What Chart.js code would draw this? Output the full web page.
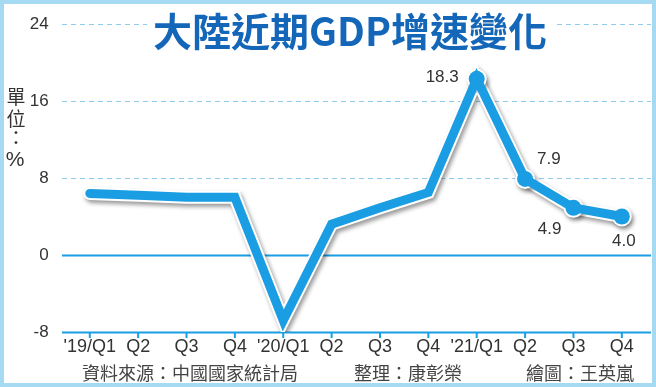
<!DOCTYPE html>
<html>
<head>
<meta charset="utf-8">
<script src="https://cdn.jsdelivr.net/npm/chart.js@4.4.0/dist/chart.umd.min.js"></script>
<style>
  html, body { margin: 0; padding: 0; background: #fff; }
  #wrap { position: relative; width: 656px; height: 387px; }
</style>
</head>
<body>
<div id="wrap"><canvas id="gdpChart" width="656" height="387"></canvas></div>
<script>
// data
var quarters = ["'19/Q1", "Q2", "Q3", "Q4", "'20/Q1", "Q2", "Q3", "Q4", "'21/Q1", "Q2", "Q3", "Q4"];
var gdpGrowth = [6.4, 6.2, 6.0, 6.0, -6.8, 3.2, 4.9, 6.5, 18.3, 7.9, 4.9, 4.0];
var shownLabels = [null, null, null, null, null, null, null, null, "18.3", "7.9", "4.9", "4.0"];
var yTicks = [-8, 0, 8, 16, 24];

var lineBlue = "#1a9de2";
var axisBlue = "#1a9de2";
var gridBlue = "#8fcdee";
var titleBlue = "#1466b8";
var frameBlue = "#a6daf3";
var textCol = "#333333";

// label offsets (dx, dy) and alignment for the shown values
var labelPos = {
  8: { dx: -18, dy: -2, align: "right" },
  9: { dx: 12, dy: -20, align: "left" },
  10: { dx: -12, dy: 21, align: "right" },
  11: { dx: 2, dy: 25, align: "center" }
};

var decor = {
  id: "decor",
  beforeDatasetsDraw: function(chart) {
    var ctx = chart.ctx;
    var y = chart.scales.y, x = chart.scales.x;
    var left = 62, right = 651;
    ctx.save();
    yTicks.forEach(function(v) {
      var py = Math.round(y.getPixelForValue(v)) + 0.5;
      ctx.beginPath();
      if (v === 0 || v === -8) {
        ctx.setLineDash([]);
        ctx.strokeStyle = axisBlue;
        ctx.lineWidth = 2;
      } else {
        ctx.setLineDash([5, 4]);
        ctx.strokeStyle = gridBlue;
        ctx.lineWidth = 1;
      }
      ctx.moveTo(left, py);
      ctx.lineTo(right, py);
      ctx.stroke();
    });
    // ticks on bottom axis
    ctx.setLineDash([]);
    ctx.strokeStyle = axisBlue;
    ctx.lineWidth = 2;
    var by = y.getPixelForValue(-8);
    quarters.forEach(function(q, i) {
      var px = x.getPixelForValue(i);
      ctx.beginPath();
      ctx.moveTo(px, by);
      ctx.lineTo(px, by + 6);
      ctx.stroke();
    });
    ctx.restore();
  },
  beforeDatasetDraw: function(chart, args) {
    if (args.index === 1) {
      var ctx = chart.ctx;
      ctx.save();
      ctx.shadowColor = "rgba(0,0,0,0.4)";
      ctx.shadowBlur = 4;
      ctx.shadowOffsetX = 2;
      ctx.shadowOffsetY = 3;
    }
  },
  afterDatasetDraw: function(chart, args) {
    if (args.index === 1) chart.ctx.restore();
  },
  afterDraw: function(chart) {
    var ctx = chart.ctx;
    var meta = chart.getDatasetMeta(0);
    ctx.save();
    // value labels
    ctx.fillStyle = textCol;
    ctx.font = "17px 'Liberation Sans', sans-serif";
    ctx.textBaseline = "middle";
    meta.data.forEach(function(pt, i) {
      if (!shownLabels[i]) return;
      var p = labelPos[i];
      ctx.textAlign = p.align;
      ctx.fillText(shownLabels[i], pt.x + p.dx, pt.y + p.dy);
    });
    // title with white backing
    ctx.font = "bold 39px 'Noto Sans CJK TC', sans-serif";
    ctx.textAlign = "center";
    ctx.textBaseline = "middle";
    var t = "大陸近期GDP增速變化";
    var w = ctx.measureText(t).width;
    ctx.fillStyle = "#fff";
    ctx.fillRect(350 - w / 2 - 6, 6, w + 12, 48);
    ctx.fillStyle = titleBlue;
    ctx.fillText(t, 350, 31);
    // unit label
    ctx.fillStyle = textCol;
    ctx.font = "19px 'Noto Sans CJK TC', sans-serif";
    ctx.fillText("單", 16, 97);
    ctx.fillText("位", 16, 119);
    ctx.fillText("：", 16, 138);
    ctx.font = "21px 'Liberation Sans', sans-serif";
    ctx.fillText("%", 15, 160);
    // source line
    ctx.font = "18px 'Noto Sans CJK TC', sans-serif";
    ctx.fillStyle = "#444";
    ctx.fillText("資料來源：中國國家統計局", 190, 373);
    ctx.fillText("整理：康彰榮", 408, 373);
    ctx.fillText("繪圖：王英嵐", 580, 373);
    // frame
    ctx.strokeStyle = frameBlue;
    ctx.lineWidth = 4;
    ctx.strokeRect(2, 2, 652, 383);
    ctx.restore();
  }
};

new Chart("gdpChart", {
  type: "line",
  data: {
    labels: quarters,
    datasets: [{
      data: gdpGrowth,
      borderColor: lineBlue,
      backgroundColor: lineBlue,
      borderWidth: 9,
      borderJoinStyle: "miter",
      borderCapStyle: "round",
      tension: 0,
      pointRadius: gdpGrowth.map(function(v, i) { return shownLabels[i] ? 8 : 0; }),
      pointBorderWidth: 0,
      pointBackgroundColor: lineBlue,
      fill: false,
      order: 1
    }, {
      data: gdpGrowth,
      borderColor: "#ffffff",
      borderWidth: 13,
      borderJoinStyle: "miter",
      borderCapStyle: "round",
      tension: 0,
      pointRadius: gdpGrowth.map(function(v, i) { return shownLabels[i] ? 10 : 0; }),
      pointBorderWidth: 0,
      pointBackgroundColor: "#ffffff",
      fill: false,
      order: 2
    }]
  },
  options: {
    responsive: false,
    animation: false,
    layout: { padding: { top: 24, right: 4.5, left: 0, bottom: 0 } },
    plugins: { legend: { display: false }, tooltip: { enabled: false }, title: { display: false } },
    scales: {
      x: {
        offset: true,
        grid: { display: false },
        border: { display: false },
        ticks: {
          color: textCol,
          font: { family: "'Liberation Sans', sans-serif", size: 18 },
          padding: -4,
          maxRotation: 0,
          autoSkip: false
        },
        afterFit: function(scale) { scale.height = 55; }
      },
      y: {
        min: -8,
        max: 24,
        grid: { display: false },
        border: { display: false },
        ticks: {
          stepSize: 8,
          color: textCol,
          font: { family: "'Liberation Sans', sans-serif", size: 17 },
          padding: 9
        },
        afterFit: function(scale) { scale.width = 65.6; }
      }
    }
  },
  plugins: [decor]
});
</script>
</body>
</html>
